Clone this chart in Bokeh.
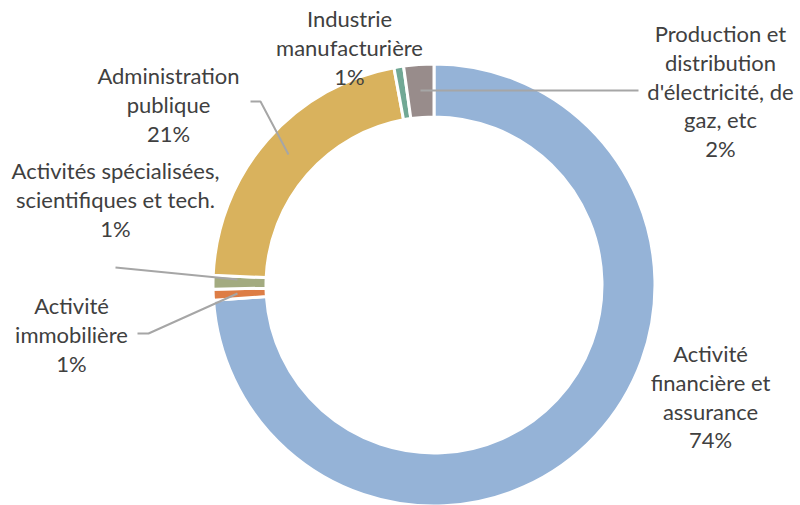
import math
from bokeh.plotting import figure
from bokeh.models import ColumnDataSource
from bokeh.core.properties import value
from bokeh.embed import file_html
from bokeh.resources import INLINE

# ---- data ----
categories = [
    "Activité financière et assurance",
    "Activité immobilière",
    "Activités spécialisées, scientifiques et tech.",
    "Administration publique",
    "Industrie manufacturière",
    "Production et distribution d'électricité, de gaz, etc",
]
shares = [73.9, 0.8, 1.0, 21.4, 0.7, 2.2]
label_lines = [
    ["Activité", "financière et", "assurance"],
    ["Activité", "immobilière"],
    ["Activités spécialisées,", "scientifiques et tech."],
    ["Administration", "publique"],
    ["Industrie", "manufacturière"],
    ["Production et", "distribution", "d'électricité, de", "gaz, etc"],
]
colors = ["#95B3D7", "#DD7D45", "#A3AB80", "#D9B25D", "#71A895", "#988C8B"]

# ---- layout (screen pixel coordinates of the reference) ----
W, H = 800, 505
def sy(y):
    return H - y

cx, cy = 433.5, 284.5
r_out, r_in = 221, 168

label_pos = [(710, 353), (71, 305), (115, 170), (168, 75), (349, 18), (720, 33)]
line_step = 28.8

leaders = [
    None,
    [(137, 333), (148, 333), (237, 293)],
    [(115, 267), (237, 279)],
    [(250, 101), (260, 101), (288, 154)],
    None,
    [(420, 90), (638, 90)],
]

p = figure(width=W, height=H, x_range=(0, W), y_range=(0, H),
           output_backend="svg", toolbar_location=None, min_border=0)
p.axis.visible = False
p.grid.visible = False
p.outline_line_color = None
p.background_fill_color = "white"
p.border_fill_color = "white"

total = sum(shares)
starts, ends = [], []
cum = 0.0
for s in shares:
    starts.append(math.pi / 2 - 2 * math.pi * cum / total)
    cum += s
    ends.append(math.pi / 2 - 2 * math.pi * cum / total)

src = ColumnDataSource(dict(x=[cx] * len(shares), y=[sy(cy)] * len(shares),
                            start=starts, end=ends, color=colors, cat=categories))
p.annular_wedge(x="x", y="y", inner_radius=r_in, outer_radius=r_out, inner_radius_units="screen",
                outer_radius_units="screen", start_angle="start", end_angle="end", direction="clock",
                fill_color="color", line_color="white", line_width=3, source=src)

for ld in leaders:
    if ld:
        p.line([q[0] for q in ld], [sy(q[1]) for q in ld], line_color="#A6A6A6", line_width=2)

tx, ty, tt = [], [], []
for i, lines in enumerate(label_lines):
    pct = f"{round(100 * shares[i] / total)}%"
    x0, y0 = label_pos[i]
    for j, t in enumerate(lines + [pct]):
        tx.append(x0)
        ty.append(sy(y0 + j * line_step))
        tt.append(t)

p.text(x=tx, y=ty, text=tt, text_align="center", text_baseline="middle",
       text_font=value("Lato"), text_font_size="22px", text_color="#404040")

open("out.html", "w").write(file_html(p, INLINE))
